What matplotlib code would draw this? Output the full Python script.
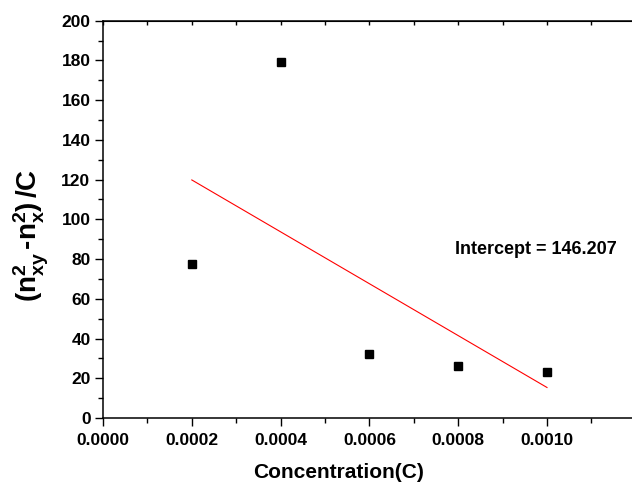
import numpy as np
import matplotlib
matplotlib.use("Agg")
import matplotlib.pyplot as plt
from matplotlib.ticker import MultipleLocator, FormatStrFormatter

plt.rcParams['font.family'] = ['Liberation Sans', 'DejaVu Sans']
plt.rcParams['font.weight'] = 'bold'
plt.rcParams['mathtext.fontset'] = 'custom'
plt.rcParams['mathtext.rm'] = 'Liberation Sans:bold'
plt.rcParams['mathtext.bf'] = 'Liberation Sans:bold'
plt.rcParams['mathtext.it'] = 'Liberation Sans:bold'

# data
concentration = [0.0002, 0.0004, 0.0006, 0.0008, 0.0010]
value = [77.5, 179.0, 32.0, 26.2, 23.3]
x_ticks = [0.0000, 0.0002, 0.0004, 0.0006, 0.0008, 0.0010]
y_ticks = [0, 20, 40, 60, 80, 100, 120, 140, 160, 180, 200]
intercept_text = "Intercept = 146.207"

fig = plt.figure(figsize=(6.32, 4.84), dpi=100)
ax = fig.add_axes([103/632, 66/484, 532.8/632, 397.3/484])

ax.plot(concentration, value, 's', color='black', ms=6.3, zorder=3)
slope, icpt = np.polyfit(concentration, value, 1)
xs = np.array([concentration[0], concentration[-1]])
ax.plot(xs, icpt + slope * xs, color='red', lw=0.8)

ax.set_xlim(0, 0.0012)
ax.set_ylim(0, 200)
ax.set_xticks(x_ticks)
ax.xaxis.set_minor_locator(MultipleLocator(0.0001))
ax.xaxis.set_major_formatter(FormatStrFormatter('%.4f'))
ax.set_yticks(y_ticks)
ax.yaxis.set_minor_locator(MultipleLocator(10))

for s in ax.spines.values():
    s.set_linewidth(1.1)
ax.spines['right'].set_visible(False)

ax.tick_params(axis='both', which='major', direction='out', length=6, width=1.0,
               labelsize=12.5, pad=3)
ax.tick_params(axis='x', which='major', pad=5)
ax.tick_params(axis='both', which='minor', direction='out', length=3.5, width=1.0)
for lab in ax.get_xticklabels() + ax.get_yticklabels():
    lab.set_fontweight('bold')

top = ax.secondary_xaxis('top')
top.set_xticks([])
top.xaxis.set_minor_locator(MultipleLocator(0.0001))
top.tick_params(which='minor', direction='in', length=3, width=1.0)
top.tick_params(labeltop=False)

ax.text(0.000793, 84.6, intercept_text, fontsize=13, fontweight='bold',
        ha='left', va='center')

fig.text(339/632, 1 - 473/484, 'Concentration(C)', fontsize=15, fontweight='bold',
         ha='center', va='center')
fig.text(31/632, 1 - 235/484, r'$\mathbf{(n^{2}_{xy}\,\text{-}n^{2}_{x})\,/C}$', fontsize=20,
         rotation=90, ha='center', va='center')

fig.savefig('out.png', dpi=100)
